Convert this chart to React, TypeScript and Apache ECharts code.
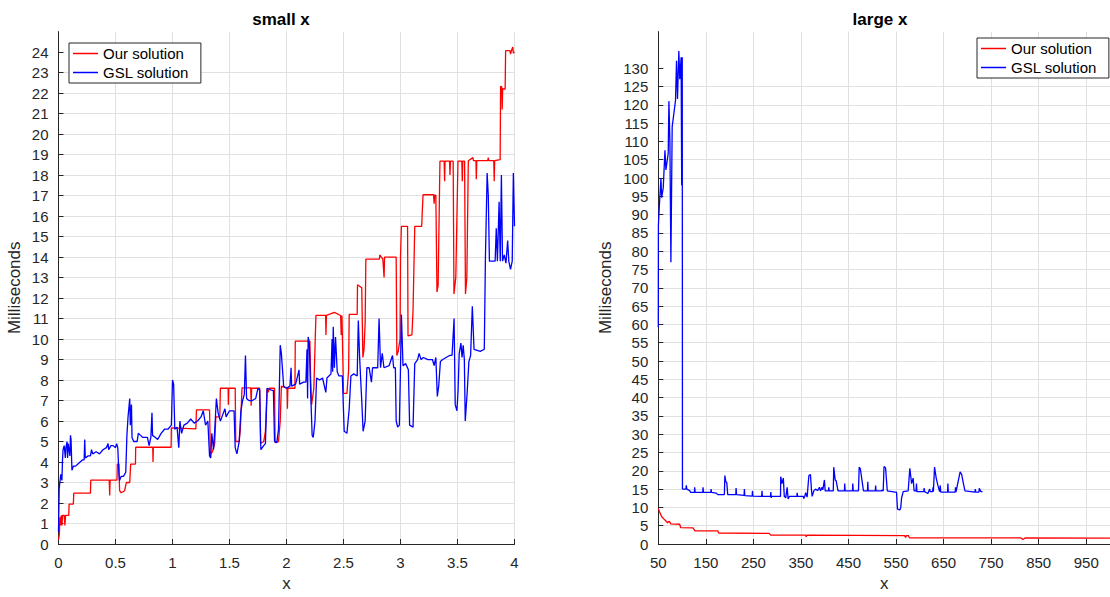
import React, { useEffect, useRef } from 'react';
import * as echarts from 'echarts';

const FONT = '"Liberation Sans", Arial, Helvetica, sans-serif';

// tick values
const smallXTicks = [0, 0.5, 1, 1.5, 2, 2.5, 3, 3.5, 4];
const smallYTicks = [0, 1, 2, 3, 4, 5, 6, 7, 8, 9, 10, 11, 12, 13, 14, 15, 16, 17, 18, 19, 20, 21, 22, 23, 24];
const largeXTicks = [50, 150, 250, 350, 450, 550, 650, 750, 850, 950];
const largeYTicks = [0, 5, 10, 15, 20, 25, 30, 35, 40, 45, 50, 55, 60, 65, 70, 75, 80, 85, 90, 95, 100, 105, 110, 115, 120, 125, 130];

const seriesNames = ['Our solution', 'GSL solution'];
const titles = ['small x', 'large x'];

// small x: our solution [x, ms]
const ourSmall: [number, number][] = [
  [0, 0.2], [0.008, 0.5], [0.012, 1.3], [0.018, 0.9], [0.024, 1.4], [0.03, 0.9], [0.036, 1.4], [0.05, 1.4], [0.056, 0.9], [0.062, 1.4],
  [0.09, 1.4], [0.093, 1.95], [0.13, 1.95], [0.134, 2.48], [0.28, 2.48], [0.283, 3.12], [0.445, 3.12], [0.449, 2.37], [0.453, 3.12],
  [0.513, 3.12], [0.516, 3.9], [0.53, 3.9], [0.536, 2.6], [0.55, 2.5], [0.58, 2.6], [0.595, 3.0], [0.625, 3.0], [0.633, 3.9],
  [0.675, 3.9], [0.677, 4.72], [0.827, 4.72], [0.829, 4.0], [0.832, 4.72], [0.988, 4.72], [0.99, 5.67], [1.205, 5.62], [1.21, 6.54],
  [1.325, 6.54], [1.332, 4.38], [1.35, 4.5], [1.37, 4.9], [1.38, 6.2], [1.415, 6.2], [1.42, 7.6], [1.488, 7.6], [1.49, 6.8], [1.493, 7.6],
  [1.55, 7.6], [1.555, 5.0], [1.585, 5.0], [1.595, 5.6], [1.61, 7.62], [1.686, 7.62], [1.69, 6.75], [1.694, 7.6], [1.765, 7.6],
  [1.772, 4.9], [1.8, 5.0], [1.815, 5.5], [1.83, 7.6], [1.84, 7.4], [1.85, 7.6], [1.895, 7.6], [1.9, 4.95], [1.93, 5.0], [1.945, 6.0],
  [1.955, 7.7], [2.005, 7.6], [2.008, 6.6], [2.012, 7.6], [2.074, 7.6], [2.077, 9.9], [2.205, 9.9], [2.212, 8.0], [2.22, 6.8],
  [2.24, 7.6], [2.258, 11.15], [2.343, 11.15], [2.346, 10.2], [2.35, 11.15], [2.42, 11.3], [2.475, 11.15], [2.48, 10.2], [2.486, 11.15],
  [2.49, 10.2], [2.5, 7.35], [2.53, 7.35], [2.545, 8.5], [2.55, 11.2], [2.62, 11.2], [2.623, 12.65], [2.66, 12.5], [2.67, 9.1],
  [2.68, 9.5], [2.69, 10.8], [2.696, 13.9], [2.815, 13.9], [2.818, 14.1], [2.845, 13.9], [2.856, 13.0], [2.86, 14.0], [2.962, 14.0],
  [2.968, 9.2], [2.98, 9.4], [2.996, 10.0], [3.0, 14.0], [3.005, 14.0], [3.008, 15.5], [3.062, 15.5], [3.066, 10.15], [3.1, 10.2],
  [3.11, 11.4], [3.125, 15.5], [3.186, 15.5], [3.19, 16.1], [3.198, 17.04], [3.29, 17.04], [3.295, 16.6], [3.3, 17.04], [3.31, 17.0],
  [3.32, 12.3], [3.33, 12.6], [3.346, 18.68], [3.383, 18.68], [3.387, 17.7], [3.391, 18.68], [3.43, 18.68], [3.434, 18.0], [3.438, 18.68],
  [3.462, 18.68], [3.469, 12.2], [3.485, 13.0], [3.504, 18.68], [3.538, 18.68], [3.542, 17.7], [3.546, 18.68], [3.562, 18.68],
  [3.57, 12.2], [3.582, 13.0], [3.595, 18.7], [3.635, 18.85], [3.64, 18.7], [3.662, 18.7], [3.665, 17.8], [3.669, 18.7], [3.765, 18.7],
  [3.77, 18.85], [3.775, 18.7], [3.818, 18.7], [3.822, 17.7], [3.826, 18.7], [3.874, 18.75], [3.878, 22.33], [3.888, 22.3], [3.892, 21.2],
  [3.896, 22.2], [3.918, 22.2], [3.922, 24.07], [3.96, 24.07], [3.965, 23.9], [3.975, 24.1], [3.985, 24.25], [3.99, 23.95], [4.0, 24.0],
];

// small x: GSL solution [x, ms]
const gslSmall: [number, number][] = [
  [0, 0.6], [0.006, 2.7], [0.02, 3.4], [0.03, 3.1], [0.035, 4.1], [0.04, 4.6], [0.05, 4.8], [0.06, 4.2], [0.065, 4.7], [0.075, 5.0],
  [0.08, 4.2], [0.085, 4.9], [0.1, 4.3], [0.105, 5.3], [0.11, 5.1], [0.118, 3.6], [0.13, 3.8], [0.15, 3.8], [0.17, 3.9], [0.19, 4.0],
  [0.21, 4.1], [0.225, 4.1], [0.23, 5.1], [0.235, 4.2], [0.26, 4.3], [0.28, 4.3], [0.29, 4.6], [0.3, 4.4], [0.33, 4.5], [0.36, 4.4],
  [0.39, 4.6], [0.42, 4.7], [0.435, 4.9], [0.44, 4.6], [0.46, 4.8], [0.48, 4.8], [0.5, 4.7], [0.51, 4.9], [0.52, 4.7], [0.53, 3.4],
  [0.535, 3.1], [0.55, 3.3], [0.57, 3.3], [0.59, 3.5], [0.6, 5.3], [0.61, 6.2], [0.625, 7.1], [0.63, 5.8], [0.64, 6.8], [0.645, 5.2],
  [0.66, 5.0], [0.69, 5.0], [0.7, 5.4], [0.72, 5.3], [0.74, 5.2], [0.78, 5.2], [0.795, 4.8], [0.81, 5.2], [0.82, 6.4], [0.825, 5.3],
  [0.85, 5.2], [0.87, 5.1], [0.9, 5.4], [0.93, 5.6], [0.96, 5.6], [0.99, 5.8], [1.0, 8.0], [1.01, 7.8], [1.02, 5.6], [1.04, 5.7],
  [1.055, 4.7], [1.065, 6.0], [1.08, 5.4], [1.1, 5.8], [1.13, 5.9], [1.16, 6.1], [1.19, 5.9], [1.22, 6.0], [1.25, 6.2], [1.27, 6.5],
  [1.29, 5.8], [1.31, 6.0], [1.325, 4.3], [1.335, 4.2], [1.345, 5.4], [1.36, 4.6], [1.37, 5.5], [1.385, 7.1], [1.4, 6.4], [1.42, 6.0],
  [1.44, 6.3], [1.46, 6.6], [1.47, 6.2], [1.5, 6.5], [1.54, 6.5], [1.55, 4.7], [1.565, 4.4], [1.585, 5.0], [1.6, 6.5], [1.615, 7.0],
  [1.63, 7.3], [1.64, 9.2], [1.65, 7.1], [1.67, 7.0], [1.7, 7.0], [1.73, 7.1], [1.75, 7.6], [1.765, 7.5], [1.775, 4.6], [1.8, 4.8],
  [1.815, 4.9], [1.83, 7.6], [1.87, 7.5], [1.885, 7.5], [1.895, 5.0], [1.915, 4.95], [1.93, 5.6], [1.945, 9.7], [1.955, 9.3], [1.975, 7.7],
  [2.0, 7.6], [2.03, 7.7], [2.04, 8.6], [2.045, 7.7], [2.08, 7.8], [2.11, 8.5], [2.115, 7.8], [2.15, 7.9], [2.17, 7.9], [2.18, 9.5],
  [2.185, 7.1], [2.19, 10.1], [2.2, 9.8], [2.212, 7.4], [2.225, 5.3], [2.235, 5.2], [2.25, 6.0], [2.264, 8.1], [2.29, 8.0], [2.316, 8.1],
  [2.345, 7.4], [2.355, 8.1], [2.39, 8.3], [2.4, 10.0], [2.405, 8.4], [2.41, 10.6], [2.42, 8.6], [2.43, 10.1], [2.445, 8.4], [2.46, 8.2],
  [2.49, 8.2], [2.506, 5.5], [2.53, 5.4], [2.55, 6.6], [2.565, 8.2], [2.59, 8.3], [2.62, 8.2], [2.63, 10.9], [2.64, 9.3], [2.65, 8.1],
  [2.66, 7.0], [2.672, 5.5], [2.69, 6.0], [2.705, 8.6], [2.725, 8.6], [2.745, 7.9], [2.755, 8.6], [2.8, 8.6], [2.812, 11.0], [2.825, 8.6],
  [2.84, 9.3], [2.855, 8.6], [2.9, 8.7], [2.93, 9.2], [2.94, 8.6], [2.955, 8.6], [2.962, 6.0], [2.975, 5.7], [2.99, 5.8], [3.0, 8.6],
  [3.008, 11.2], [3.022, 8.7], [3.045, 8.8], [3.069, 8.5], [3.08, 5.8], [3.11, 5.7], [3.125, 8.8], [3.15, 9.0], [3.163, 9.3], [3.18, 9.0],
  [3.2, 9.1], [3.24, 9.0], [3.28, 9.0], [3.295, 8.7], [3.31, 9.1], [3.323, 7.2], [3.335, 7.7], [3.35, 8.9], [3.37, 9.0], [3.4, 9.1],
  [3.43, 9.2], [3.452, 9.2], [3.47, 11.0], [3.48, 6.8], [3.495, 6.5], [3.505, 7.5], [3.515, 9.3], [3.53, 9.8], [3.54, 9.1], [3.55, 9.7],
  [3.56, 9.0], [3.568, 6.0], [3.585, 7.4], [3.6, 8.9], [3.615, 9.2], [3.63, 11.6], [3.645, 9.5], [3.7, 9.4], [3.735, 9.5], [3.745, 14.0],
  [3.76, 18.1], [3.77, 17.0], [3.78, 13.8], [3.83, 13.8], [3.84, 15.4], [3.85, 13.8], [3.865, 16.7], [3.875, 13.8], [3.885, 18.0],
  [3.895, 13.8], [3.91, 14.1], [3.925, 13.7], [3.94, 14.8], [3.95, 13.8], [3.965, 13.4], [3.98, 13.8], [3.99, 18.1], [4.0, 15.5],
];

// large x: our solution [x, ms]
const ourLarge: [number, number][] = [
  [50, 9.7], [53.5, 8.5], [57, 7.5], [62, 6.8], [66, 6.3], [69.5, 5.8], [72, 6.2], [74, 6.1], [76, 5.5], [95, 5.4], [97, 4.5],
  [123, 4.4], [127, 3.6], [175, 3.6], [177, 3.0], [283, 2.9], [287, 2.4], [360, 2.4], [361, 2.0], [363, 2.4], [568, 2.3], [570, 1.8],
  [572, 2.3], [576, 2.3], [578, 1.7], [812, 1.7], [817, 1.2], [822, 1.7], [1000, 1.6],
];

// large x: GSL solution [x, ms]
const gslLarge: [number, number][] = [
  [50, 59.2], [50.2, 87], [52, 92], [55.6, 100], [57, 94.6], [60.4, 97.3], [64, 107.6], [66, 102.2], [70.9, 106.8], [72.3, 121],
  [74.4, 110], [76.5, 77], [79.2, 114], [86.2, 121.2], [88.3, 132], [90.4, 121.6], [93.2, 134.7], [95.2, 127], [98, 133], [99.2, 98],
  [99.8, 128], [100.4, 133], [100.8, 15], [108, 15], [109, 16], [110, 15], [116, 14.6], [118, 14.1], [126, 14.1], [126.5, 15.5],
  [127.5, 14.1], [143.5, 14.1], [144, 15.5], [145, 14.1], [160.5, 14.1], [161, 15.0], [162, 14.1], [172, 13.9], [175, 13.5], [189, 13.5],
  [190, 18.7], [192, 17], [194, 16.8], [196, 13.5], [213, 13.5], [213.6, 15.3], [214.5, 13.5], [230.5, 13.3], [231, 15], [232, 13.2],
  [247.5, 13.1], [248, 14.5], [249, 13.1], [267.5, 13], [268, 14.5], [269, 13], [286, 13], [286.6, 14.2], [287.5, 12.6], [288, 13],
  [307, 13], [307.5, 18.4], [310, 16.5], [313, 18], [315, 13], [318, 12.6], [321, 15.5], [323, 12.3], [326, 13], [341.5, 13], [342, 14.0],
  [343, 13], [355, 13], [356, 12.4], [358, 13], [360, 14], [363, 12.8], [366.7, 18.7], [370, 19], [372, 15], [373.6, 13], [377, 14.5],
  [380.6, 15], [385, 14.6], [389, 15.5], [391, 14.5], [394.5, 15.5], [396, 14.8], [399.4, 17.5], [401, 14.5], [408, 14.5], [408.5, 15.5],
  [409.5, 14.5], [418, 14.5], [419, 21], [422, 17.5], [424, 17.3], [428, 14.5], [441.5, 14.5], [442, 16.5], [443, 14.5], [458.5, 14.5],
  [459, 16.5], [460, 14.5], [471, 14.5], [472.5, 21], [475, 20.5], [481.5, 14.5], [490, 14.5], [490.6, 17], [491.5, 14.5], [506.5, 14.5],
  [507, 16], [508, 14.5], [519.5, 14.5], [520, 14.7], [523, 14.5], [524.7, 21.2], [528, 20.8], [531.6, 14.5], [547.7, 14.2], [551, 14.2],
  [553, 9.5], [558, 9.3], [560, 10], [561.6, 12.5], [565, 14.3], [575.5, 14.5], [579, 20.7], [582.7, 16.5], [586, 18], [588, 14.5],
  [592, 14.5], [593, 16.5], [594, 14.3], [608.5, 14.3], [609, 15.3], [610, 14.3], [617, 13.8], [620.7, 15], [622, 14.3], [627, 14.3],
  [627.7, 15.5], [628.5, 14.3], [631, 21], [634.5, 18], [638, 16], [641.6, 14.3], [643, 16], [644, 14.2], [658.5, 14.2], [659, 16.5],
  [660, 14.2], [674.5, 14.2], [675, 15.5], [676, 14.2], [684.8, 19.7], [688, 19], [691.7, 16.5], [695, 14.5], [716, 14.2], [716.8, 15],
  [717.5, 14.2], [724.5, 14.2], [725, 15.2], [728.6, 14.3], [732, 14.3],
];

const AXIS_COLOR = '#262626';
const GRID_COLOR = '#e0e0e0';
const RED = '#ff0000';
const BLUE = '#0000ff';

function xAxisCfg(gridIndex: number, min: number, max: number, interval: number, ticks: number[]) {
  return {
    type: 'value', gridIndex, min, max, interval,
    name: 'x', nameLocation: 'middle', nameGap: 31,
    nameTextStyle: { fontSize: 17, color: AXIS_COLOR, fontFamily: FONT },
    axisLine: { show: true, onZero: false, lineStyle: { color: AXIS_COLOR, width: 1 } },
    axisTick: { show: true, inside: true, length: 5, customValues: ticks, lineStyle: { color: AXIS_COLOR } },
    axisLabel: { fontSize: 15, color: AXIS_COLOR, fontFamily: FONT, margin: 11, customValues: ticks },
    splitLine: { show: true, lineStyle: { color: GRID_COLOR, width: 1 } },
  };
}

function yAxisCfg(gridIndex: number, max: number, interval: number, ticks: number[], nameGap: number) {
  return {
    type: 'value', gridIndex, min: 0, max, interval,
    name: 'Milliseconds', nameLocation: 'middle', nameGap,
    nameTextStyle: { fontSize: 17, color: AXIS_COLOR, fontFamily: FONT },
    axisLine: { show: true, onZero: false, lineStyle: { color: AXIS_COLOR, width: 1 } },
    axisTick: { show: true, inside: true, length: 5, customValues: ticks, lineStyle: { color: AXIS_COLOR } },
    axisLabel: { fontSize: 15, color: AXIS_COLOR, fontFamily: FONT, margin: 10, customValues: ticks },
    splitLine: { show: true, showMaxLine: false, lineStyle: { color: GRID_COLOR, width: 1 } },
  };
}

function legendCfg(left: number, top: number) {
  return {
    data: seriesNames, left, top, orient: 'vertical', icon: 'rect',
    itemWidth: 25, itemHeight: 1.5, itemGap: 4, padding: [3, 12, 3, 4],
    borderColor: AXIS_COLOR, borderWidth: 1, backgroundColor: '#fff',
    textStyle: { fontSize: 15, color: '#000', fontFamily: FONT },
    selectedMode: false,
  };
}

function lineSeries(name: string, color: string, data: [number, number][], axisIndex: number) {
  return {
    type: 'line', name, data, xAxisIndex: axisIndex, yAxisIndex: axisIndex,
    symbol: 'none', showSymbol: false, clip: true,
    lineStyle: { color, width: 1.3 }, itemStyle: { color },
  };
}

export default function App() {
  const ref = useRef<HTMLDivElement>(null);
  useEffect(() => {
    const chart = echarts.init(ref.current!, null, { renderer: 'svg' });
    chart.setOption({
      animation: false,
      backgroundColor: '#fff',
      grid: [
        { left: 58.5, top: 31.6, width: 456, height: 518.7, containLabel: false },
        { left: 658.3, top: 31.6, width: 455, height: 518.7, containLabel: false },
      ],
      xAxis: [
        xAxisCfg(0, 0, 4, 0.5, smallXTicks),
        xAxisCfg(1, 50, 1000, 100, largeXTicks),
      ],
      yAxis: [
        yAxisCfg(0, 25, 1, smallYTicks, 36),
        yAxisCfg(1, 140, 5, largeYTicks, 44),
      ],
      legend: [legendCfg(69, 43), legendCfg(977, 38)],
      graphic: [
        { type: 'text', x: 281, y: 19, style: { text: titles[0], fontSize: 17, fontWeight: 'bold', fontFamily: FONT, fill: '#000', align: 'center', verticalAlign: 'middle' } },
        { type: 'text', x: 880, y: 19, style: { text: titles[1], fontSize: 17, fontWeight: 'bold', fontFamily: FONT, fill: '#000', align: 'center', verticalAlign: 'middle' } },
      ],
      series: [
        lineSeries(seriesNames[0], RED, ourSmall, 0),
        lineSeries(seriesNames[1], BLUE, gslSmall, 0),
        lineSeries(seriesNames[0], RED, ourLarge, 1),
        lineSeries(seriesNames[1], BLUE, gslLarge, 1),
      ],
    });
    return () => chart.dispose();
  }, []);
  return (
    <div
      ref={ref}
      style={{ position: 'fixed', left: 0, top: 0, width: 1110, height: 597, background: '#fff' }}
    />
  );
}
